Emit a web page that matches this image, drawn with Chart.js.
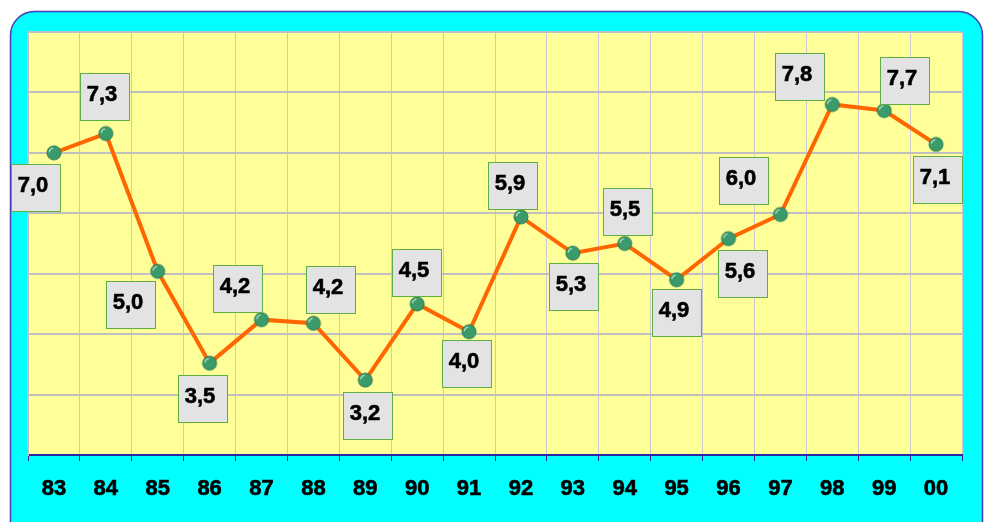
<!DOCTYPE html>
<html>
<head>
<meta charset="utf-8">
<script src="https://cdn.jsdelivr.net/npm/chart.js@4.4.1/dist/chart.umd.min.js"></script>
<style>
  html, body { margin: 0; padding: 0; background: #ffffff; }
  #wrap { width: 984px; height: 522px; }
</style>
</head>
<body>
<div id="wrap"><canvas id="chart" width="984" height="522"></canvas></div>
<script>
// Jahre und Werte
const years = ['83', '84', '85', '86', '87', '88', '89', '90', '91', '92', '93', '94', '95', '96', '97', '98', '99', '00'];
const rates = [7.0, 7.32, 5.04, 3.52, 4.24, 4.18, 3.24, 4.5, 4.04, 5.94, 5.34, 5.5, 4.9, 5.58, 5.98, 7.8, 7.7, 7.14];
const yTicks = [2, 3, 4, 5, 6, 7, 8, 9];

// wo die Beschriftung relativ zum Punkt sitzt (Pixel)
const labelPlacement = [
    [-18, 35], [-1, -37], [-27, 34], [-7, 36], [-24, -31], [18, -33],
    [3, 36], [0, -31], [-2, 32], [-8, -31], [1, 34], [3, -32],
    [0, 33], [14, 35], [-36, -33], [-32, -28], [21, -30], [2, 36]
];

const FONT = 'Arial, "Liberation Sans", sans-serif';

// kleine gruene Kugel als Markierung
function makeBall(r) {
    const c = document.createElement('canvas');
    const s = 2 * r + 4;
    c.width = s; c.height = s;
    const g = c.getContext('2d');
    const cx = s / 2, cy = s / 2;
    g.fillStyle = '#3a9a6a';
    g.beginPath();
    g.arc(cx, cy, r, 0, Math.PI * 2);
    g.fill();
    g.strokeStyle = '#2b7c53';
    g.lineWidth = 1;
    g.stroke();
    // Glanzlicht oben links
    g.strokeStyle = 'rgba(225, 245, 232, 0.9)';
    g.lineWidth = 1.2;
    g.beginPath();
    g.arc(cx, cy, r - 2.2, Math.PI * 1.05, Math.PI * 1.45);
    g.stroke();
    return c;
}

// Hintergrund: cyan Rahmen und gelbe Zeichenflaeche
const backgroundPlugin = {
    id: 'panel',
    beforeDraw(chart) {
        const ctx = chart.ctx;
        const a = chart.chartArea;
        ctx.save();
        ctx.fillStyle = '#ffffff';
        ctx.fillRect(0, 0, chart.width, chart.height);

        const x = 10.5, y = 11.5, w = 972, h = 530, r = 24;
        ctx.beginPath();
        ctx.moveTo(x + r, y);
        ctx.lineTo(x + w - r, y);
        ctx.arcTo(x + w, y, x + w, y + r, r);
        ctx.lineTo(x + w, y + h);
        ctx.lineTo(x, y + h);
        ctx.lineTo(x, y + r);
        ctx.arcTo(x, y, x + r, y, r);
        ctx.closePath();
        ctx.fillStyle = '#00ffff';
        ctx.fill();
        ctx.lineWidth = 1.5;
        ctx.strokeStyle = '#4a3cb8';
        ctx.stroke();

        ctx.fillStyle = '#ffff99';
        ctx.fillRect(a.left, a.top, a.right - a.left, a.bottom - a.top);
        ctx.restore();
    }
};

// Wertkaestchen
const valueBoxPlugin = {
    id: 'valueBoxes',
    afterDatasetsDraw(chart) {
        const ctx = chart.ctx;
        const pts = chart.getDatasetMeta(0).data;
        ctx.save();
        ctx.font = 'bold 22px ' + FONT;
        ctx.textAlign = 'center';
        ctx.textBaseline = 'middle';
        pts.forEach((p, i) => {
            const cx = Math.round(p.x + labelPlacement[i][0]);
            const cy = Math.round(p.y + labelPlacement[i][1]);
            const bw = 50, bh = 48;
            ctx.fillStyle = '#e3e3e3';
            ctx.fillRect(cx - bw / 2, cy - bh / 2, bw, bh);
            ctx.strokeStyle = '#5eb043';
            ctx.lineWidth = 1;
            ctx.strokeRect(cx - bw / 2 + 0.5, cy - bh / 2 + 0.5, bw - 1, bh - 1);
            const txt = rates[i].toFixed(1).replace('.', ',');
            ctx.fillStyle = '#000000';
            ctx.strokeStyle = '#000000';
            ctx.lineWidth = 0.6;
            ctx.fillText(txt, cx - 3, cy - 2);
            ctx.strokeText(txt, cx - 3, cy - 2);
        });
        ctx.restore();
    }
};

const ctx = document.getElementById('chart').getContext('2d');
const chart = new Chart(ctx, {
    type: 'line',
    data: {
        labels: years,
        datasets: [{
            data: rates,
            borderColor: '#ff6600',
            borderWidth: 4,
            tension: 0,
            pointStyle: makeBall(7),
            pointRadius: 7,
            fill: false
        }]
    },
    options: {
        responsive: false,
        animation: false,
        layout: { padding: { left: 28, top: 32, right: 22, bottom: 0 } },
        plugins: {
            legend: { display: false },
            tooltip: { enabled: false }
        },
        scales: {
            x: {
                offset: true,
                grid: {
                    offset: true,
                    color: '#cbc8d4',
                    lineWidth: 1,
                    drawTicks: true,
                    tickLength: 6,
                    tickColor: '#2a2aa0'
                },
                border: { color: '#2a2aa0', width: 2 },
                ticks: {
                    color: '#000000',
                    font: { family: FONT, size: 22, weight: 'bold' },
                    textStrokeColor: '#000000',
                    textStrokeWidth: 0.6,
                    padding: 15,
                    maxRotation: 0
                },
                afterFit(scale) { scale.height = 67; }
            },
            y: {
                min: yTicks[0],
                max: yTicks[yTicks.length - 1],
                afterBuildTicks(scale) { scale.ticks = yTicks.map(v => ({ value: v })); },
                grid: { color: '#c0c0c0', lineWidth: 2, drawTicks: false },
                border: { color: '#c0c0c0', width: 2 },
                ticks: { display: false },
                afterFit(scale) { scale.width = 0; }
            }
        }
    },
    plugins: [backgroundPlugin, valueBoxPlugin]
});
</script>
</body>
</html>
